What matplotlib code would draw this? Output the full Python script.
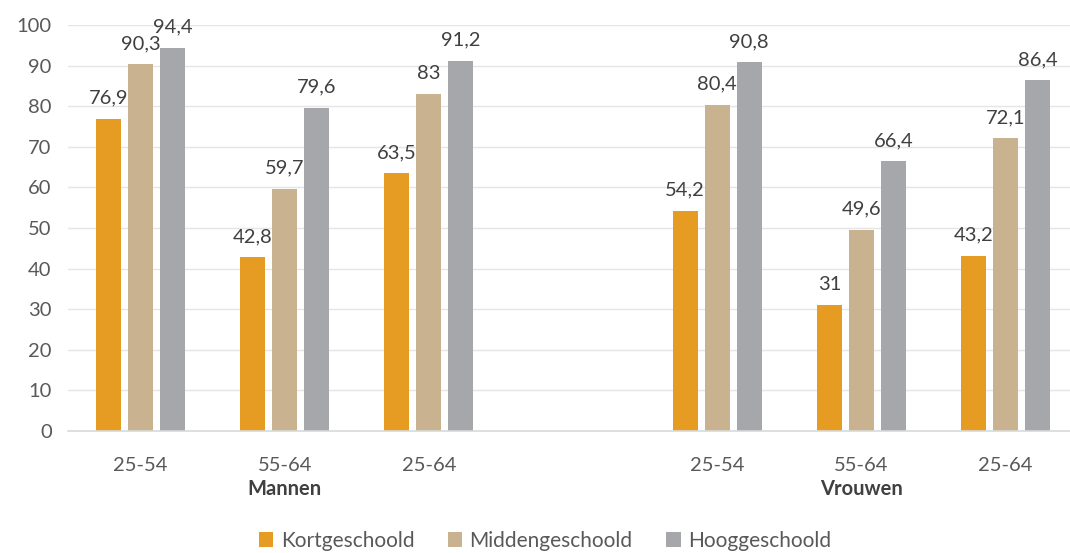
import matplotlib
matplotlib.use("Agg")
import matplotlib.pyplot as plt
import matplotlib.transforms as mtransforms
import numpy as np

plt.rcParams['font.family'] = ['Lato', 'DejaVu Sans']

categories = ["25-54", "55-64", "25-64", "", "25-54", "55-64", "25-64"]
groups = ["Mannen", "Vrouwen"]
series_names = ["Kortgeschoold", "Middengeschoold", "Hooggeschoold"]
kort = [76.9, 42.8, 63.5, None, 54.2, 31, 43.2]
midden = [90.3, 59.7, 83, None, 80.4, 49.6, 72.1]
hoog = [94.4, 79.6, 91.2, None, 90.8, 66.4, 86.4]
colors = ["#E69B22", "#C8B290", "#A5A7AA"]

fig = plt.figure(figsize=(10.7, 5.53), dpi=100)
ax = fig.add_axes([68.4/1070, 1-431/553, 1-68.4/1070, (431-25)/553])

x = np.arange(len(categories))
width = 25/144.2
step = 32/144.2
for i, (vals, name, c) in enumerate(zip([kort, midden, hoog], series_names, colors)):
    xs = [xi + (i-1)*step for xi, v in zip(x, vals) if v is not None]
    vs = [v for v in vals if v is not None]
    bars = ax.bar(xs, vs, width=width, color=c, label=name, zorder=3)
    for b, v in zip(bars, vs):
        lbl = (f"{v:g}").replace(".", ",")
        ax.text(b.get_x()+b.get_width()/2, v+3, lbl, ha='center', va='bottom',
                fontsize=14.5, color="#404040")

ax.set_ylim(0, 100)
ax.set_xlim(-0.5, 6.5 - 7.6/144.2)
ax.set_yticks(range(0, 101, 10))
ax.tick_params(axis='y', length=0, labelsize=14.5, labelcolor="#595959", pad=12)
ax.set_xticks(x)
ax.set_xticklabels(categories)
ax.tick_params(axis='x', length=0, labelsize=14.5, labelcolor="#595959", pad=19)
ax.grid(axis='y', color="#E5E5E5", linewidth=1, zorder=0)
for s in ['top', 'right', 'left']:
    ax.spines[s].set_visible(False)
ax.spines['bottom'].set_color("#D9D9D9")
ax.spines['bottom'].set_linewidth(1.2)
ax.spines['bottom'].set_zorder(4)

trans = mtransforms.blended_transform_factory(ax.transData, fig.transFigure)
for gx, g in zip([1, 5], groups):
    ax.text(gx, 1-489/553, g, transform=trans,
            ha='center', va='center', fontsize=14.5, fontweight='bold', color="#404040")

leg = fig.legend(loc='center', bbox_to_anchor=(545/1070, 1-541/553), ncol=3, frameon=False,
                 fontsize=15, handlelength=0.7, handleheight=0.7, columnspacing=1.6,
                 handletextpad=0.35, labelcolor="#595959")

fig.savefig("out.png", dpi=100)
